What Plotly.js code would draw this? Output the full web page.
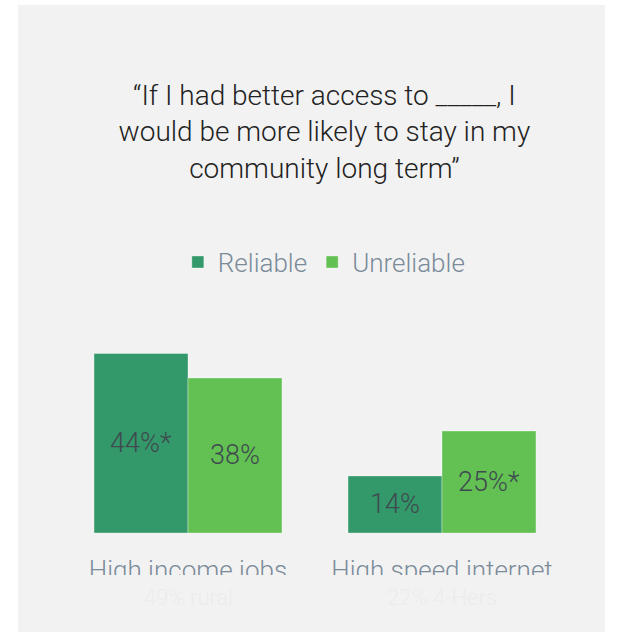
<!DOCTYPE html>
<html>
<head>
<meta charset="utf-8">
<script src="https://cdn.plot.ly/plotly-3.0.1.min.js"></script>
<style>
  html, body { margin: 0; padding: 0; background: #ffffff; }
  #chart { position: absolute; left: 18px; top: 5px; width: 587px; height: 627px; }
</style>
</head>
<body>
<div id="chart"></div>
<script>
// ---- data ----
const categories = ['High income jobs', 'High speed internet'];
const subLabels = ['49% rural', '22% 4-Hers'];
const seriesNames = ['Reliable', 'Unreliable'];
const reliable = [44, 14];
const unreliable = [38, 25];
const reliableLabels = ['44%*', '14%'];
const unreliableLabels = ['38%', '25%*'];
const titleText = '\u201CIf I had better access to _____, I<br>would be more likely to stay in my<br>community long term\u201D';

// ---- styles ----
const FONT = 'Roboto, "Noto Sans", "Liberation Sans", sans-serif';
const colReliable = '#33996a';
const colUnreliable = '#62c152';
const slate = '#7a8b9a';
const panel = '#f2f2f2';

const barText = {family: FONT, size: 27, color: '#3f4a50', weight: 300};

const traces = [
  {
    type: 'bar', name: seriesNames[0], x: categories, y: reliable,
    text: reliableLabels, textposition: 'inside', insidetextanchor: 'middle',
    textangle: 0, constraintext: 'none', insidetextfont: barText,
    marker: {color: colReliable, line: {color: 'rgba(255,255,255,0.35)', width: 1}}
  },
  {
    type: 'bar', name: seriesNames[1], x: categories, y: unreliable,
    text: unreliableLabels, textposition: 'inside', insidetextanchor: 'middle',
    textangle: 0, constraintext: 'none', insidetextfont: barText,
    marker: {color: colUnreliable, line: {color: 'rgba(255,255,255,0.35)', width: 1}}
  }
];

const annotations = categories.map((c, i) => ({
  x: c, xref: 'x', y: -0.314, yref: 'paper', yanchor: 'middle',
  text: subLabels[i], showarrow: false,
  font: {family: FONT, size: 22, color: '#ececec', weight: 300}
}));

const layout = {
  width: 587, height: 627,
  paper_bgcolor: panel, plot_bgcolor: panel,
  margin: {l: 43, r: 36, t: 324, b: 99},
  barmode: 'group', bargap: 0.26, bargroupgap: 0,
  showlegend: true,
  hovermode: false,
  title: {
    text: titleText, x: 0.522, xanchor: 'center',
    y: 1 - 100 / 627, yref: 'container', yanchor: 'top',
    font: {family: FONT, size: 28, color: '#222222', weight: 300}
  },
  legend: {
    orientation: 'h', x: 0.23, xanchor: 'left', y: 1.328, yanchor: 'middle',
    bgcolor: 'rgba(0,0,0,0)',
    font: {family: FONT, size: 26, color: slate, weight: 300},
    traceorder: 'normal'
  },
  xaxis: {
    type: 'category', range: [-0.5, 1.5],
    showgrid: false, zeroline: false, showline: false,
    ticks: '', ticklabelstandoff: 19,
    tickfont: {family: FONT, size: 26, color: slate, weight: 300}
  },
  yaxis: {
    range: [0, 50], showgrid: false, zeroline: false, showline: false,
    showticklabels: false, ticks: ''
  },
  shapes: [{
    type: 'rect', xref: 'paper', yref: 'paper', layer: 'above',
    x0: -0.2, x1: 1.2, y0: -0.206, y1: -0.6,
    fillcolor: panel, line: {width: 0}
  }],
  annotations: annotations
};

Plotly.newPlot('chart', traces, layout, {staticPlot: true, displayModeBar: false});
</script>
</body>
</html>
